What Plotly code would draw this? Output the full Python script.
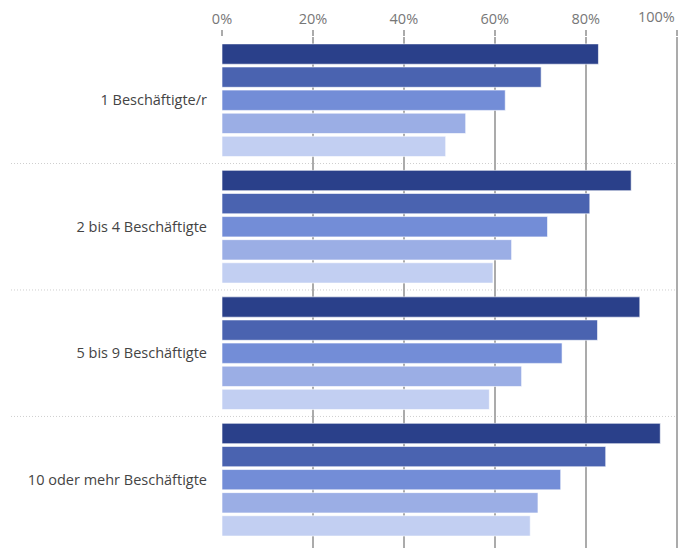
import plotly.graph_objects as go

categories = ["1 Beschäftigte/r", "2 bis 4 Beschäftigte", "5 bis 9 Beschäftigte", "10 oder mehr Beschäftigte"]
series_names = ["Reihe 1", "Reihe 2", "Reihe 3", "Reihe 4", "Reihe 5"]
series_1 = [82.8, 90.0, 91.9, 96.4]
series_2 = [70.2, 80.9, 82.6, 84.4]
series_3 = [62.3, 71.6, 74.8, 74.5]
series_4 = [53.6, 63.7, 65.9, 69.5]
series_5 = [49.2, 59.6, 58.8, 67.8]
tick_vals = [0, 20, 40, 60, 80, 100]
tick_text = ["0%", "20%", "40%", "60%", "80%", "100%"]

colors = ["#2a408a", "#4a63b0", "#738dd7", "#9baee5", "#c2cff2"]
all_series = [series_1, series_2, series_3, series_4, series_5]

fig = go.Figure()
for name, vals, col in zip(series_names, all_series, colors):
    fig.add_trace(go.Bar(
        y=categories, x=vals, name=name, orientation="h",
        marker=dict(color=col, line=dict(color="rgba(255,255,255,0.6)", width=1)),
        showlegend=False,
    ))

L, R, T, B = 222, 1, 37, 0
W, H = 679, 548
plot_w = W - L - R

shapes = []
for yv in [0.5, 1.5, 2.5]:
    shapes.append(dict(type="line", xref="paper", yref="y",
                       x0=(11 - L) / plot_w, x1=1.0 + R / plot_w, y0=yv, y1=yv,
                       line=dict(color="#cfcfcf", width=1, dash="1px,2px"), layer="below"))

# last tick label drawn right-aligned so it fits inside the canvas
shown_text = tick_text[:-1] + [""]
annotations = [dict(x=tick_vals[-1], xref="x", y=1, yref="paper", yshift=9,
                    text=tick_text[-1], showarrow=False, xanchor="right", yanchor="bottom",
                    font=dict(color="#777", size=14.5))]

fig.update_layout(
    width=W, height=H,
    margin=dict(l=L, r=R, t=T, b=B),
    barmode="group", bargap=0.087, bargroupgap=0.12,
    plot_bgcolor="white", paper_bgcolor="white",
    font=dict(family="Open Sans, Noto Sans, sans-serif", size=14.5, color="#444"),
    xaxis=dict(side="top", range=[0, 100.3], tickvals=tick_vals, ticktext=shown_text,
               showgrid=True, gridcolor="#ababab", gridwidth=1.5,
               ticks="outside", ticklen=6, tickcolor="#ababab", tickwidth=1.5,
               zeroline=False, showline=False,
               tickfont=dict(color="#777", size=14.5)),
    yaxis=dict(categoryorder="array", categoryarray=categories,
               range=[3.54, -0.5], showgrid=False, zeroline=False,
               ticks="", ticklabelstandoff=14,
               tickfont=dict(color="#444", size=14.5)),
    shapes=shapes,
    annotations=annotations,
)

fig.write_html("out.html", config={"displayModeBar": False},
               post_script="document.body.style.margin='0';document.body.style.padding='0';")
